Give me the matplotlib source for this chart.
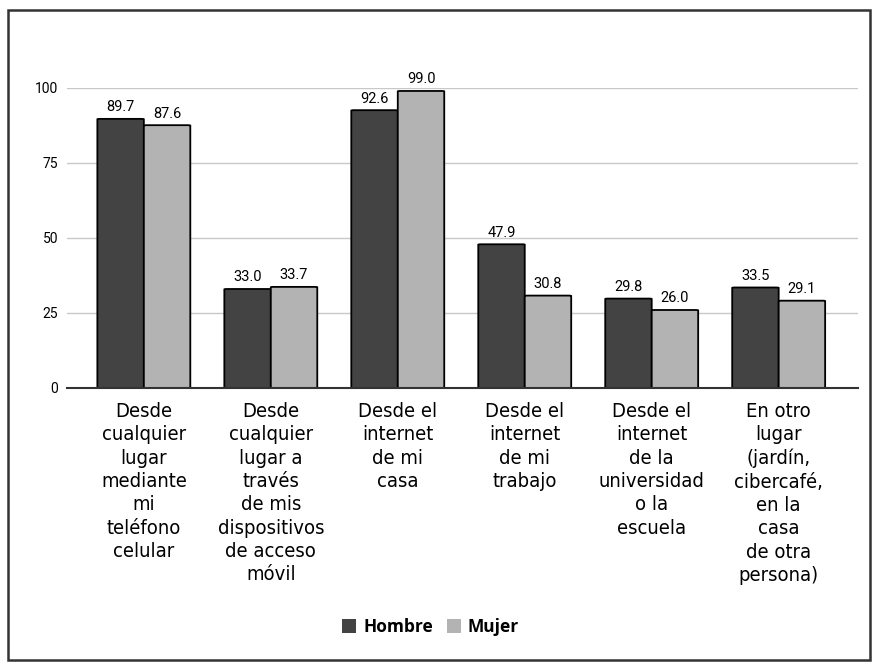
import numpy as np
import matplotlib.pyplot as plt
from matplotlib.patches import Rectangle, FancyBboxPatch

categories = [
    "Desde\ncualquier\nlugar\nmediante\nmi\nteléfono\ncelular",
    "Desde\ncualquier\nlugar a\ntravés\nde mis\ndispositivos\nde acceso\nmóvil",
    "Desde el\ninternet\nde mi\ncasa",
    "Desde el\ninternet\nde mi\ntrabajo",
    "Desde el\ninternet\nde la\nuniversidad\no la\nescuela",
    "En otro\nlugar\n(jardín,\ncibercafé,\nen la\ncasa\nde otra\npersona)",
]
hombre = [89.7, 33.0, 92.6, 47.9, 29.8, 33.5]
mujer = [87.6, 33.7, 99.0, 30.8, 26.0, 29.1]
y_ticks = [0, 25, 50, 75, 100]

dark = "#434343"
light = "#b3b3b3"

fig = plt.figure(figsize=(8.75, 6.67), dpi=100)
ax = fig.add_axes([0.0766, 0.4183, 0.904, 0.4498])

x = np.arange(len(categories))
w = 0.366


def draw_bars(xs, vals, color):
    for xi, v in zip(xs, vals):
        p = FancyBboxPatch((xi - w / 2, 0), w, v,
                           boxstyle="round,pad=0,rounding_size=0.02",
                           mutation_aspect=6,
                           facecolor=color, edgecolor="black", linewidth=1.3,
                           zorder=3)
        ax.add_patch(p)
        ax.text(xi, v + 1.5, f"{v:.1f}", ha="center", va="bottom",
                fontsize=10.5, family=["Roboto", "DejaVu Sans"], zorder=4)


draw_bars(x - w / 2, hombre, dark)
draw_bars(x + w / 2, mujer, light)

ax.set_xlim(-0.605, 5.625)
ax.set_ylim(0, 100)
ax.set_yticks(y_ticks)
ax.set_yticklabels([str(t) for t in y_ticks], fontsize=10,
                   family=["Roboto", "DejaVu Sans"])
ax.tick_params(axis="y", length=0, pad=6.5)
ax.yaxis.grid(True, color="#c8c8c8", linewidth=1, zorder=0)
ax.set_axisbelow(True)
for s in ["top", "right", "left"]:
    ax.spines[s].set_visible(False)
ax.spines["bottom"].set_color("#333333")
ax.spines["bottom"].set_linewidth(1.5)
ax.spines["bottom"].set_zorder(5)

ax.set_xticks(x)
ax.set_xticklabels(categories, fontsize=14.5, family=["DejaVu Sans"],
                   stretch="condensed", linespacing=1.29, va="top")
ax.tick_params(axis="x", length=0, pad=10)

# legend
handles = [Rectangle((0, 0), 1, 1, facecolor=dark),
           Rectangle((0, 0), 1, 1, facecolor=light)]
fig.legend(handles, ["Hombre", "Mujer"], loc="center",
           bbox_to_anchor=(0.492, 0.06), ncol=2, frameon=False,
           handlelength=0.8, handleheight=0.8, handletextpad=0.4,
           columnspacing=0.8,
           prop={"family": ["Open Sans", "DejaVu Sans"], "weight": "bold",
                 "size": 12.5})

# outer frame
fig.patches.append(Rectangle((0.009, 0.011), 0.985, 0.974,
                             transform=fig.transFigure, fill=False,
                             edgecolor="#333333", linewidth=1.8))

fig.savefig("out.png", dpi=100)
